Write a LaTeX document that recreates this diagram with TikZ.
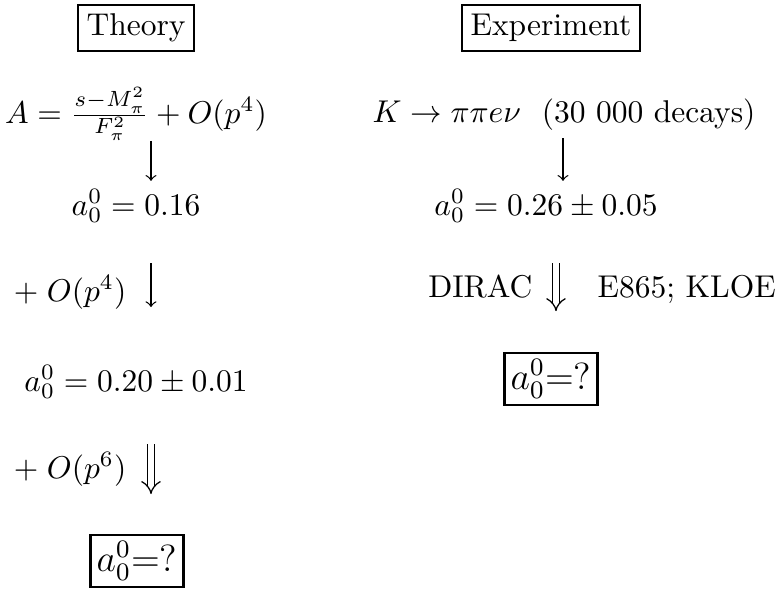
\documentclass[tikz,border=0pt]{standalone}
\usepackage{amsmath}
\usetikzlibrary{arrows}
\tikzset{
  headbox/.style = {rectangle, draw=black, semithick, inner sep=2.8pt},% titre de colonne
  eqnode/.style = {inner sep=0pt, anchor=base},% ligne de calcul
  sidelabel/.style = {inner sep=0pt, anchor=base east},
  askbox/.style = {rectangle, draw=black, thick, font=\large,
    inner sep=2pt},% resultat inconnu
  step_arrow/.style = {->, >=to},
  strong_arrow/.style = {double, double distance=1.8pt, -implies}
}

\begin{document}
\begin{tikzpicture}[x=0.3175pt, y=-0.3175pt]
  \useasboundingbox (0,0) rectangle (775,590);
  \coordinate (th_axis) at (151,0);
  \coordinate (ex_axis) at (563,0);
  \coordinate (ex_axis2) at (556,0);
  % colonne theorie
  \node [headbox] (theory) at (136,28) {Theory};
  \node [eqnode] (lo) at (136,123) {$A=\frac{s-M_\pi^2}{F_\pi^2}+O(p^4)$};
  \node [eqnode] (lo_a) at (136,215) {$a_0^0=0.16$};
  \node [eqnode] (nlo_a) at (136,391) {$a_0^0=0.20\pm0.01$};
  \node [askbox] (th_ask) at (137,561) {$a_0^0$=?};
  \node [sidelabel] (nlo_lbl) at (127,301) {$+\;O(p^4)$};
  \node [sidelabel] (nnlo_lbl) at (127,478) {$+\;O(p^6)$};
  % colonne experience
  \node [headbox] (exper) at (551,28) {Experiment};
  \node [eqnode] (kl4) at (564,122) {$K\to\pi\pi e\nu$\ \ (30 000 decays)};
  \node [eqnode] (ex_a) at (546,215) {$a_0^0=0.26\pm0.05$};
  \node [askbox] (ex_ask) at (551,379) {$a_0^0$=?};
  \node [sidelabel] (dirac) at (533,297) {DIRAC};
  \node [inner sep=0pt, anchor=base west] (e865) at (597,297) {E865; KLOE};

  \draw [step_arrow, shorten >=2.5pt] (lo.south -| th_axis) -- (lo_a.north -| th_axis);
  \draw [step_arrow, shorten <=12.6pt, shorten >=18.3pt] (lo_a.south -| th_axis) -- (nlo_a.north -| th_axis);
  \draw [strong_arrow, shorten <=14.2pt, shorten >=12.6pt] (nlo_a.south -| th_axis) -- (th_ask.north -| th_axis);
  \draw [step_arrow, shorten <=2.5pt, shorten >=2.5pt] (kl4.south -| ex_axis) -- (ex_a.north -| ex_axis);
  \draw [strong_arrow, shorten <=12.6pt, shorten >=12.9pt] (ex_a.south -| ex_axis2) -- (ex_ask.north -| ex_axis2);
\end{tikzpicture}
\end{document}
